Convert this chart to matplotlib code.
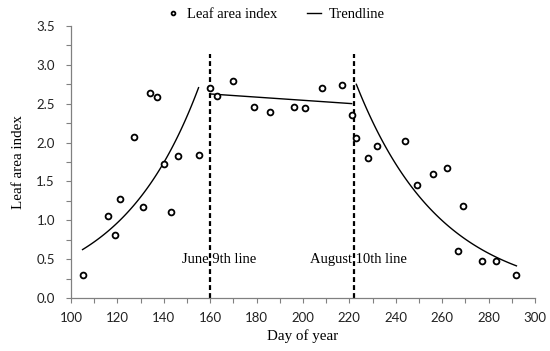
import matplotlib
matplotlib.use("Agg")
from matplotlib import pyplot as plt
from matplotlib.ticker import MultipleLocator
import numpy as np

# day of year and leaf area index
day = [105, 116, 119, 121, 127, 131, 134, 137, 140, 143, 146, 155,
       160, 163, 170, 179, 186, 196, 201, 208, 217, 221,
       223, 228, 232, 244, 249, 256, 262, 267, 269, 277, 283, 292]
lai = [0.30, 1.05, 0.81, 1.28, 2.07, 1.17, 2.64, 2.58, 1.72, 1.11, 1.83, 1.84,
       2.70, 2.60, 2.79, 2.46, 2.39, 2.46, 2.44, 2.70, 2.74, 2.36,
       2.06, 1.80, 1.96, 2.02, 1.46, 1.60, 1.67, 0.61, 1.18, 0.48, 0.47, 0.29]

june_line = 160
august_line = 222

day = np.array(day, dtype=float)
lai = np.array(lai)

serif = "Liberation Serif"
sans = "Lato"

fig = plt.figure(figsize=(5.5, 3.51), dpi=100)
ax = fig.add_axes([0.129, 0.151, 0.8437, 0.775])

ax.plot(day, lai, 'o', mfc='white', mec='black', ms=4.2, mew=1.3,
        label='Leaf area index', zorder=3)

# trendlines: exponential, linear, exponential
m1 = day < june_line
b, a = np.polyfit(day[m1], np.log(lai[m1]), 1)
x1 = np.linspace(day[m1].min(), day[m1].max(), 100)
ax.plot(x1, np.exp(a) * np.exp(b * x1), color='black', lw=1, label='Trendline')

m2 = (day >= june_line) & (day < august_line)
b, a = np.polyfit(day[m2], lai[m2], 1)
x2 = np.linspace(day[m2].min(), day[m2].max(), 100)
ax.plot(x2, a + b * x2, color='black', lw=1)

m3 = day >= august_line
b, a = np.polyfit(day[m3], np.log(lai[m3]), 1)
x3 = np.linspace(day[m3].min(), day[m3].max(), 100)
ax.plot(x3, np.exp(a) * np.exp(b * x3), color='black', lw=1)

# marker lines
for xv in (june_line, august_line):
    ax.plot([xv, xv], [0, 3.14], color='black', lw=1.6, ls=(0, (2.2, 1.4)))
ax.text(164, 0.49, 'June 9th line', family=serif, fontsize=10.5, ha='center', va='center')
ax.text(224, 0.49, 'August 10th line', family=serif, fontsize=10.5, ha='center', va='center')

ax.set_xlim(100, 300)
ax.set_ylim(0, 3.5)
ax.xaxis.set_major_locator(MultipleLocator(20))
ax.xaxis.set_minor_locator(MultipleLocator(10))
ax.yaxis.set_major_locator(MultipleLocator(0.5))
ax.yaxis.set_minor_locator(MultipleLocator(0.25))
ax.yaxis.set_major_formatter(lambda v, p: f'{v:.1f}')
ax.tick_params(which='both', direction='out', color='#808080', length=3.5, width=0.8)
ax.tick_params(axis='x', labelsize=9.5, pad=6.5)
ax.tick_params(axis='y', labelsize=9.5, pad=8)
for lab in ax.get_xticklabels() + ax.get_yticklabels():
    lab.set_family(sans)
    lab.set_color('#222222')

for s in ('top', 'right'):
    ax.spines[s].set_visible(False)
for s in ('left', 'bottom'):
    ax.spines[s].set_color('#808080')
    ax.spines[s].set_linewidth(0.9)

ax.set_xlabel('Day of year', family=serif, fontsize=10.8, labelpad=4)
ax.set_ylabel('Leaf area index', family=serif, fontsize=10.8, labelpad=8)

fig.legend(loc='upper center', bbox_to_anchor=(0.5, 1.015), ncol=2, frameon=False,
           prop={'family': serif, 'size': 10.5}, handlelength=1.0, columnspacing=2.0,
           handletextpad=0.5, markerscale=0.65)

fig.savefig('out.png', dpi=100)
